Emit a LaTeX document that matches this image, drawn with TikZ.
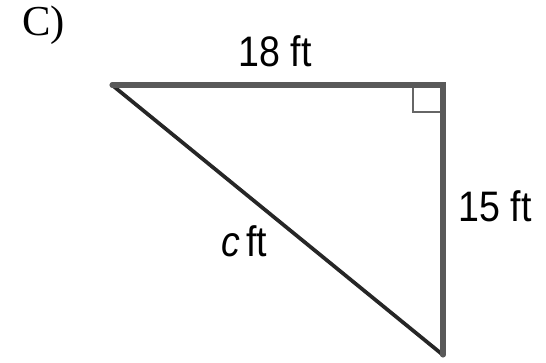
\documentclass[tikz,border=0pt]{standalone}
\usepackage{fontspec}
\setmainfont{Liberation Sans}
\newfontfamily\labelserif{Liberation Serif}
\usetikzlibrary{positioning}
\begin{document}
\begin{tikzpicture}[x=0.75pt, y=-0.75pt, line width=3.6pt,
    leg/.style={draw=black!65, line width=3.8pt},
    hyp/.style={draw=black!85, line width=2.8pt},
    mark90/.style={draw=black!60, line width=2pt},
    lbl/.style={inner sep=0pt, font=\fontsize{32}{36}\selectfont}]
  \useasboundingbox (0,0) rectangle (546,363);
  \coordinate (A) at (112,85); \coordinate (B) at (443,85); \coordinate (C) at (443,355);
  \draw[hyp] (A) -- (C);
  \draw[mark90] (413,85) -- (413,112) -- (443,112);
  \draw[leg, line cap=round] (A) -- (B) -- (C);
  \node[lbl, anchor=base west] (part) at (20,36) {\labelserif C)};
  \node[lbl, anchor=base] (top) at (275,67) {\scalebox{0.88}[1]{18 ft}};
  \node[lbl, anchor=base] (side) at (495,222) {\scalebox{0.88}[1]{15 ft}};
  \node[lbl, anchor=base] (hypo) at (244,257) {\scalebox{0.88}[1]{\textit{c}\,ft}};
\end{tikzpicture}
\end{document}
